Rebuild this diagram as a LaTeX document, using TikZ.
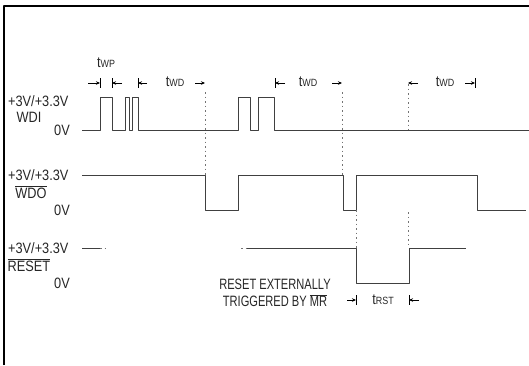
\documentclass[tikz,border=0pt]{standalone}
\usepackage{fontspec}
\setmainfont{Liberation Sans}[FakeStretch=0.85]
\newfontfamily\narrowfont{Liberation Sans}[FakeStretch=0.74]
\usetikzlibrary{arrows.meta}
\newcommand{\ovl}[1]{$\overline{\mbox{#1}}$}
\newcommand{\tsub}[1]{{\fontsize{15}{15}\selectfont t}{\fontsize{10.5}{10.5}\selectfont #1}}

\begin{document}
\begin{tikzpicture}[x=1pt,y=-1pt,line join=round,>={Stealth[length=4pt,width=3.5pt]},font=\fontsize{13}{17}\selectfont]
	\tikzset{wave/.style={line width=.9pt,black!75},
		guide/.style={line width=.8pt,black!55,dash pattern=on 1.5pt off 3pt},
		dim/.style={line width=.7pt,->},
		tick/.style={line width=.7pt},
		lbl/.style={inner sep=0pt,text=black!85},
		level/.style={lbl,font=\fontsize{15}{17}\selectfont}}
	\useasboundingbox (0,0) rectangle (529,365);
	\draw[line width=1.4pt] (4,365)--(4,6)--(529,6);
	% level labels
	\node[level,anchor=west] (wdihi) at (8,101) {+3V/+3.3V};
	\node[level] (wdi) at (29,117) {WDI};
	\node[level] (wdilo) at (62,130) {0V};
	\node[level,anchor=west] (wdohi) at (8,175) {+3V/+3.3V};
	\node[level] (wdo) at (31,192) {\ovl{WDO}};
	\node[level] (wdolo) at (62,210) {0V};
	\node[level,anchor=west] (rsthi) at (8,248) {+3V/+3.3V};
	\node[level] (rst) at (29,265) {\ovl{RESET}};
	\node[level] (rstlo) at (62,283) {0V};
	% waveforms
	\draw[wave] (82,130)--(100,130)--(100,97)--(112,97)--(112,130)--(125,130)--(125,97)--(129,97)--(129,130)
		--(132,130)--(132,97)--(138,97)--(138,130)--(238,130)--(238,97)--(250,97)--(250,130)--(258,130)
		--(258,97)--(274,97)--(274,130)--(529,130);
	\draw[wave] (82,175)--(205,175)--(205,210)--(238,210)--(238,175)--(343,175)--(343,210)--(356,210)
		--(356,175)--(477,175)--(477,210)--(526,210);
	\draw[wave] (82,248)--(100,248);
	\draw[guide] (100,248)--(107,248);
	\draw[guide] (241,248)--(247,248);
	\draw[wave] (247,248)--(356,248)--(356,283)--(409,283)--(409,248)--(466,248);
	% guides
	\draw[guide] (205,92)--(205,175);
	\draw[guide] (342,92)--(342,175);
	\draw[guide] (356,210)--(356,248);
	\draw[guide] (408,84)--(408,130);
	\draw[guide] (408,212)--(408,248);
	% timing marks
	\foreach \x in {100,112,138,275,475}
	\draw[tick] (\x,78)--(\x,88);
	\foreach \x in {356,409}
	\draw[tick] (\x,295)--(\x,305);
	\draw[dim] (88,83)--(100,83);
	\draw[dim] (122,83)--(112,83);
	\draw[dim] (147,83)--(138,83);
	\draw[dim] (195,83)--(205,83);
	\draw[dim] (285,83)--(275,83);
	\draw[dim] (332,83)--(342,83);
	\draw[dim] (418,83)--(408,83);
	\draw[dim] (465,83)--(475,83);
	\draw[dim] (347,300)--(356,300);
	\draw[dim] (419,300)--(409,300);
	\node[lbl] (twp) at (106,63) {\tsub{WP}};
	\node[lbl] (twda) at (175,82) {\tsub{WD}};
	\node[lbl] (twdb) at (308,82) {\tsub{WD}};
	\node[lbl] (twdc) at (445,82) {\tsub{WD}};
	\node[lbl] (trst) at (383,300) {\tsub{RST}};
	\node[lbl,align=center,font=\narrowfont\fontsize{15}{17}\selectfont] (ext) at (275,293)
		{RESET EXTERNALLY\\TRIGGERED BY \ovl{MR}};
\end{tikzpicture}
\end{document}
